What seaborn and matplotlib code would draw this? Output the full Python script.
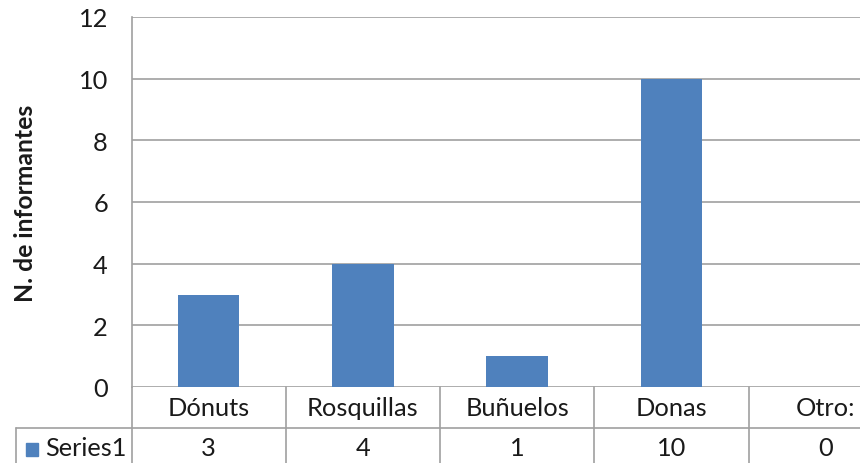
import matplotlib
matplotlib.use("Agg")
import matplotlib.pyplot as plt
import matplotlib.transforms as mtransforms
from matplotlib.textpath import TextPath
from matplotlib.font_manager import FontProperties
import seaborn as sns

categories = ['Dónuts', 'Rosquillas', 'Buñuelos', 'Donas', 'Otro:']
values = [3, 4, 1, 10, 0]
series_name = 'Series1'
y_ticks = [0, 2, 4, 6, 8, 10, 12]
y_label = 'N. de informantes'

sns.set_style("white")
FONT = 'Lato'
plt.rcParams['font.family'] = [FONT, 'DejaVu Sans']


def fit_size(text, px, weight='normal'):
    # font size (pt) that makes text about px pixels wide at 100 dpi
    w = TextPath((0, 0), text, prop=FontProperties(family=FONT, size=100,
                                                    weight=weight)).get_extents().width
    return px * 72 / w


fs = fit_size('Rosquillas', 108)
fs_label = fit_size(y_label, 195, 'bold')

W, H = 860, 464
fig = plt.figure(figsize=(W / 100, H / 100), dpi=100)
# plot area in pixels: left 131.5, top 18, bottom 388, 154.25 px per category
ax = fig.add_axes([131.5 / W, (H - 388) / H, 5 * 154.25 / W, 370 / H])

bar_color = '#4f81bd'
grid_color = '#a0a0a0'
text_color = '#1a1a1a'

sns.barplot(x=categories, y=values, color=bar_color, width=0.4, ax=ax,
            saturation=1, linewidth=0, zorder=3)
ax.set_xlim(-0.5, len(categories) - 0.5)
ax.set_ylim(0, 12)
ax.set_yticks(y_ticks)
ax.set_yticklabels([str(t) for t in y_ticks], fontsize=fs, color=text_color)
ax.tick_params(axis='y', length=0, pad=17)
ax.set_xticks([])
ax.set_xlabel('')
ax.yaxis.grid(True, color=grid_color, linewidth=1.2, zorder=0)
ax.set_ylabel(y_label, fontsize=fs_label, fontweight='bold', color=text_color)
ax.yaxis.set_label_coords((37 - 131.5) / 771, 0.5)
for s in ['top', 'right', 'bottom']:
    ax.spines[s].set_visible(False)
ax.spines['left'].set_color(grid_color)
ax.spines['left'].set_linewidth(1.2)

# data table under the plot
tr = mtransforms.blended_transform_factory(ax.transData, ax.transAxes)
row1 = -41 / 370
row2 = -0.3
lw = 1.2
for i in range(len(categories)):
    ax.plot([i - 0.5, i - 0.5], [0, row2], color=grid_color, lw=lw,
            transform=tr, clip_on=False)
left_x = -0.5 - (131.5 - 16) / 154.25
ax.plot([left_x, len(categories)], [row1, row1], color=grid_color, lw=lw,
        transform=tr, clip_on=False)
ax.plot([left_x, left_x], [row1, row2], color=grid_color, lw=lw,
        transform=tr, clip_on=False)

for i, (c, v) in enumerate(zip(categories, values)):
    ax.text(i, -21 / 370, c, transform=tr, ha='center', va='center',
            fontsize=fs, color=text_color, clip_on=False)
    ax.text(i, -61 / 370, str(v), transform=tr, ha='center', va='center',
            fontsize=fs, color=text_color, clip_on=False)

# legend key and series name
key_x = -0.5 - (131.5 - 26) / 154.25
ax.add_patch(plt.Rectangle((key_x, -69 / 370), 12 / 154.25, 13 / 370,
                           transform=tr, color=bar_color, clip_on=False))
ax.text(-0.5 - (131.5 - 45) / 154.25, -61 / 370, series_name, transform=tr,
        ha='left', va='center', fontsize=fs, color=text_color, clip_on=False)

fig.savefig('out.png', dpi=100)
